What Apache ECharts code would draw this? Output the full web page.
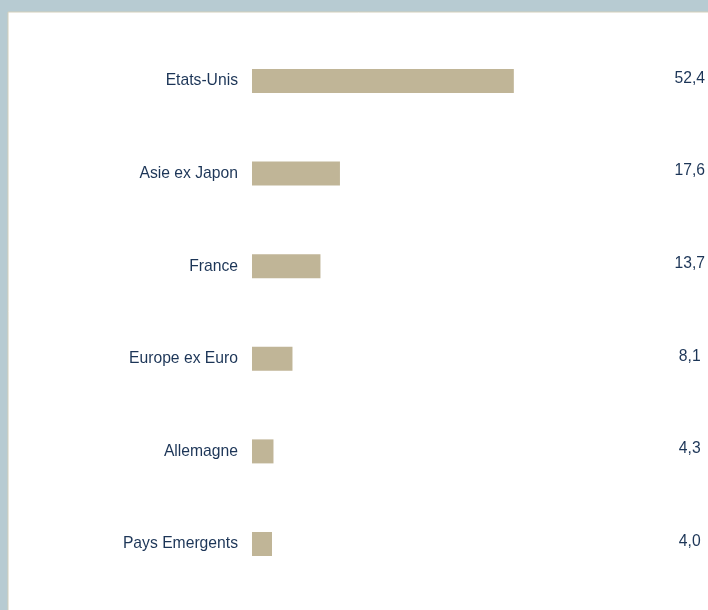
<!DOCTYPE html>
<html>
<head>
<meta charset="utf-8">
<script src="https://cdn.jsdelivr.net/npm/echarts@6/dist/echarts.min.js"></script>
<style>
html,body{margin:0;padding:0;background:#b7cbd2;}
#c{width:708px;height:610px;}
</style>
</head>
<body>
<div id="c"></div>
<script>
const categories = ['Etats-Unis', 'Asie ex Japon', 'France', 'Europe ex Euro', 'Allemagne', 'Pays Emergents'];
const values = [52.4, 17.6, 13.7, 8.1, 4.3, 4.0];
const valueLabels = values.map(v => v.toFixed(1).replace('.', ','));

const chart = echarts.init(document.getElementById('c'));
const textColor = '#1c3557';
const font = 'Liberation Sans, Arial, sans-serif';
chart.setOption({
  backgroundColor: '#b7cbd2',
  animation: false,
  graphic: [
    { type: 'rect', shape: { x: 8, y: 12, width: 720, height: 620 }, style: { fill: '#ffffff', stroke: '#d3cfbb', lineWidth: 1 }, z: -10 }
  ],
  grid: { left: 252, top: 34.7, width: 400, height: 555.6, containLabel: false },
  xAxis: { type: 'value', min: 0, max: 80, show: false },
  yAxis: [
    {
      type: 'category', inverse: true, data: categories,
      axisLine: { show: false }, axisTick: { show: false }, splitLine: { show: false },
      axisLabel: { color: textColor, fontFamily: font, fontSize: 15.7, margin: 14 }
    },
    {
      type: 'category', inverse: true, position: 'right', data: valueLabels,
      axisLine: { show: false }, axisTick: { show: false }, splitLine: { show: false },
      axisLabel: { color: textColor, fontFamily: font, fontSize: 15.7, margin: 38, align: 'center', verticalAlign: 'bottom', lineHeight: 5 }
    }
  ],
  series: [
    {
      type: 'bar', data: values, barWidth: 24, yAxisIndex: 0,
      itemStyle: { color: '#c0b597' }, silent: true
    }
  ]
});
</script>
</body>
</html>
